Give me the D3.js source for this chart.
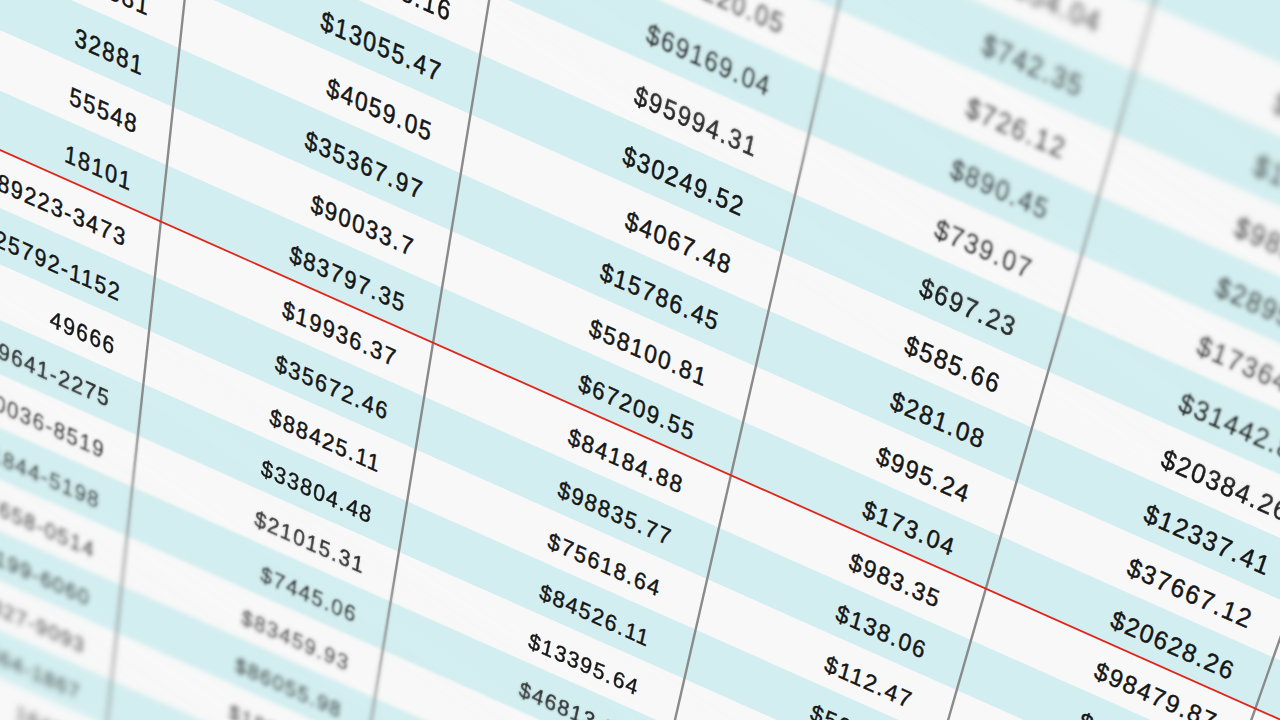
<!DOCTYPE html>
<html>
<head>
<meta charset="utf-8">
<script src="https://cdn.jsdelivr.net/npm/d3@7"></script>
<style>
  html, body { margin: 0; padding: 0; background: #f8f8f8; overflow: hidden; }
  svg { display: block; }
  .cell-text {
    font-family: "Liberation Sans", Arial, sans-serif;
    letter-spacing: 1.7px;
    fill: #161616;
    stroke: #161616;
    stroke-width: 0.45px;
  }
</style>
</head>
<body>
<svg id="chart" width="1280" height="720"></svg>
<script>
(function() {
  'use strict';

  // Table contents, one entry per sheet row (null = cell not in view)
  const zipCodes = [
    null, null, null, null, null, null, null, null,
    '40381', '32881', '55548', '18101',
    '89223-3473', '25792-1152', '49666', '39641-2275', '60036-8519', '31844-5198',
    '47658-0514', '26199-6060', '51327-9093', '90564-1867', '16480',
    null
  ];
  const salesTotals = [
    null, null, null, null, null, null,
    '$52138.16', '$13055.47', '$4059.05', '$35367.97', '$90033.7', '$83797.35',
    '$19936.37', '$35672.46', '$88425.11', '$33804.48', '$21015.31', '$7445.06',
    '$83459.93', '$86055.98', '$18830.12',
    null, null, null
  ];
  const orderTotals = [
    null, null, null, null,
    '$41220.05', '$69169.04', '$95994.31', '$30249.52', '$4067.48', '$15786.45',
    '$58100.81', '$67209.55',
    '$84184.88', '$98835.77', '$75618.64', '$84526.11', '$13395.64', '$46813.27',
    null, null, null, null, null, null
  ];
  const shippingFees = [
    null, null,
    '$654.04', '$742.35', '$726.12', '$890.45', '$739.07', '$697.23',
    '$585.66', '$281.08', '$995.24', '$173.04',
    '$983.35', '$138.06', '$112.47', '$562.90',
    null, null, null, null, null, null, null, null
  ];
  const refundTotals = [
    null, null,
    '$15573.80', '$14926.53', '$98210.67', '$28953.40', '$17364.95', '$31442.83',
    '$20384.26', '$12337.41', '$37667.12', '$20628.26',
    '$98479.87', '$63512.09',
    null, null, null, null, null, null, null, null, null, null
  ];
  const columns = [zipCodes, salesTotals, orderTotals, shippingFees, refundTotals];

  // Highlighted boundary sits above this row
  const markedRow = 12;

  // ---- layout of the flat sheet ----
  const ROW_H = 53.5;
  const colEdges = [-80, 237, 535, 861, 1140, 1435, 1800];
  const cellPad = [34, 34, 45, 41, 32];
  const fontSizes = [23.5, 23.5, 23.5, 24.3, 25];
  const BASELINE = 38;
  const X_MIN = -500, X_MAX = 1900;

  const width = 1280;
  const height = 720;

  // ---- camera: rows stay parallel, columns run to a vanishing point below ----
  const ROW_SLOPE = 0.445;
  const theta = Math.atan(ROW_SLOPE);
  const dir = [Math.cos(theta), Math.sin(theta)];
  const nrm = [-Math.sin(theta), Math.cos(theta)];
  const VP = [-395, 5400];
  const aVp = VP[0] * dir[0] + VP[1] * dir[1];
  const bVp = VP[0] * nrm[0] + VP[1] * nrm[1];
  const B0 = 137;
  const depth = bVp - B0;

  function project(X, Y) {
    const s = depth / (depth + Y);
    const a = aVp + (X - aVp) * s;
    const b = bVp - depth * s;
    return [a * dir[0] + b * nrm[0], a * dir[1] + b * nrm[1]];
  }

  function localMatrix(X, Y) {
    const p = project(X, Y);
    const px = project(X + 1, Y);
    const py = project(X, Y + 1);
    return 'matrix(' + [px[0] - p[0], px[1] - p[1], py[0] - p[0], py[1] - p[1], p[0], p[1]].join(',') + ')';
  }

  const rowIds = zipCodes.map((_, i) => i);
  const y = d3.scaleBand()
    .domain(rowIds)
    .range([-markedRow * ROW_H, (rowIds.length - markedRow) * ROW_H])
    .padding(0);

  const svg = d3.select('#chart');
  const defs = svg.append('defs');
  const table = defs.append('g').attr('id', 'sheet');

  // page background
  table.append('rect')
    .attr('x', -100).attr('y', -100)
    .attr('width', width + 200).attr('height', height + 200)
    .attr('fill', '#f8f8f8');

  // row stripes
  table.append('g')
    .selectAll('path')
    .data(rowIds)
    .join('path')
    .attr('d', i => {
      const y0 = y(i), y1 = y(i) + y.bandwidth();
      return 'M' + [project(X_MIN, y0), project(X_MAX, y0), project(X_MAX, y1), project(X_MIN, y1)]
        .map(p => p.join(',')).join('L') + 'Z';
    })
    .attr('fill', i => (i % 2 === 1 ? '#d3eef0' : '#f8f8f8'));

  // column rules
  const yTop = y.range()[0], yBottom = y.range()[1];
  table.append('g')
    .selectAll('line')
    .data(colEdges.slice(0, -1))
    .join('line')
    .attr('x1', c => project(c, yTop)[0])
    .attr('y1', c => project(c, yTop)[1])
    .attr('x2', c => project(c, yBottom)[0])
    .attr('y2', c => project(c, yBottom)[1])
    .attr('stroke', '#8a8a8a')
    .attr('stroke-width', 2.4);

  // red marker rule
  const redY = y(markedRow);
  table.append('line')
    .attr('x1', project(X_MIN, redY)[0])
    .attr('y1', project(X_MIN, redY)[1])
    .attr('x2', project(X_MAX, redY)[0])
    .attr('y2', project(X_MAX, redY)[1])
    .attr('stroke', '#e0261c')
    .attr('stroke-width', 1.8);

  // cell values
  const cells = [];
  columns.forEach((values, c) => {
    values.forEach((v, i) => {
      if (v !== null) cells.push({ value: v, col: c, row: i });
    });
  });

  table.append('g')
    .selectAll('g')
    .data(cells)
    .join('g')
    .attr('transform', d => localMatrix(colEdges[d.col + 1] - cellPad[d.col], y(d.row) + BASELINE))
    .append('text')
    .attr('class', 'cell-text')
    .attr('font-size', d => fontSizes[d.col])
    .attr('text-anchor', 'end')
    .text(d => d.value);

  // sharp base
  svg.append('use').attr('href', '#sheet');

  // depth of field: blurred copies masked by distance from the focus band
  const focusSlope = 0.66;
  const phi = Math.atan(focusSlope);
  const m = [-Math.sin(phi), Math.cos(phi)];
  const T_MIN = -900, T_MAX = 900;
  const tCenter = -4;
  const sharpHalf = 195;
  const blurRate = 0.0095;
  const blurLevels = [0.6, 1.2, 1.9, 2.7, 3.5];

  const off = t => Math.max(0, Math.min(1, (t - T_MIN) / (T_MAX - T_MIN)));

  blurLevels.forEach((sigma, i) => {
    const lo = i === 0 ? sharpHalf : sharpHalf + blurLevels[i - 1] / blurRate;
    const hi = sharpHalf + sigma / blurRate;

    defs.append('filter')
      .attr('id', 'blur' + i)
      .attr('filterUnits', 'userSpaceOnUse')
      .attr('x', -80).attr('y', -80)
      .attr('width', width + 160).attr('height', height + 160)
      .append('feGaussianBlur')
      .attr('stdDeviation', sigma);

    const grad = defs.append('linearGradient')
      .attr('id', 'focus' + i)
      .attr('gradientUnits', 'userSpaceOnUse')
      .attr('x1', T_MIN * m[0]).attr('y1', T_MIN * m[1])
      .attr('x2', T_MAX * m[0]).attr('y2', T_MAX * m[1]);
    [
      [0, '#fff'],
      [off(tCenter - hi), '#fff'],
      [off(tCenter - lo), '#000'],
      [off(tCenter + lo), '#000'],
      [off(tCenter + hi), '#fff'],
      [1, '#fff']
    ].forEach(([o, col]) => {
      grad.append('stop').attr('offset', o).attr('stop-color', col);
    });

    defs.append('mask')
      .attr('id', 'mask' + i)
      .attr('maskUnits', 'userSpaceOnUse')
      .attr('x', 0).attr('y', 0)
      .attr('width', width).attr('height', height)
      .append('rect')
      .attr('width', width).attr('height', height)
      .attr('fill', 'url(#focus' + i + ')');

    svg.append('use')
      .attr('href', '#sheet')
      .attr('filter', 'url(#blur' + i + ')')
      .attr('mask', 'url(#mask' + i + ')');
  });
})();
</script>
</body>
</html>
